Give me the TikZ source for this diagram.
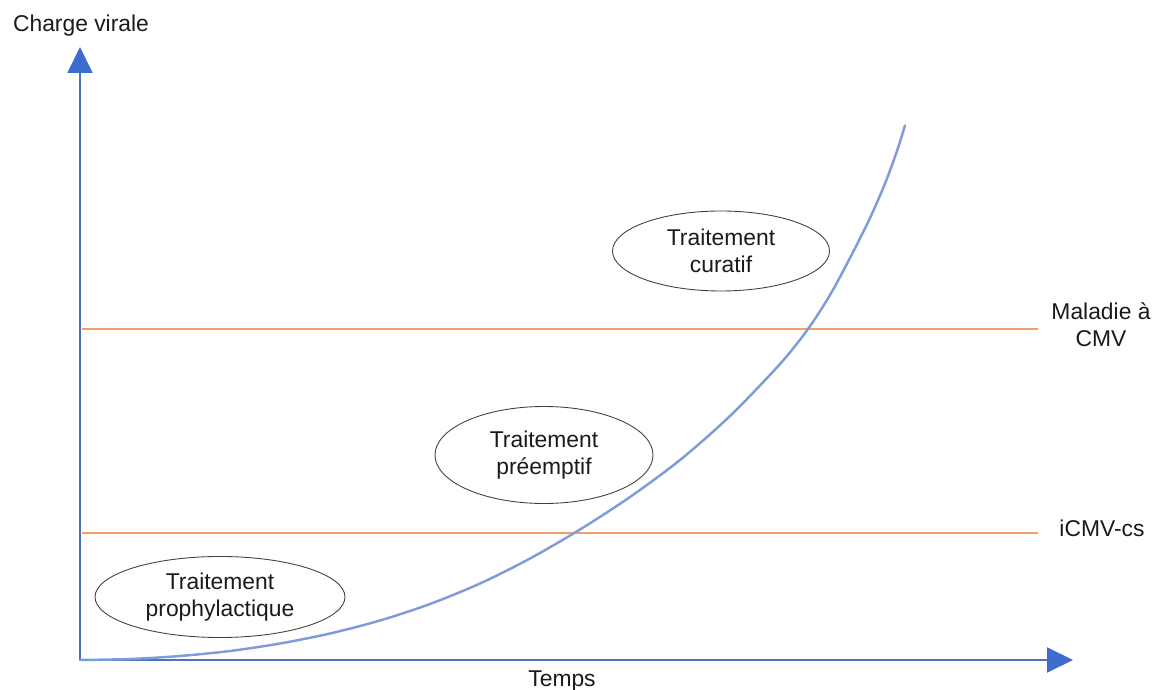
\documentclass[tikz,border=0pt]{standalone}
\usepackage{fontspec}
\setmainfont{Liberation Sans}
\usetikzlibrary{arrows.meta,shapes.geometric}
\definecolor{AxisBlue}{HTML}{4C73C0}
\definecolor{TipBlue}{HTML}{3D6CD0}
\definecolor{CurveBlue}{HTML}{809CD8}
\definecolor{Threshold}{HTML}{F29E66}
\definecolor{Ink}{HTML}{1A1A1A}
\definecolor{Rim}{HTML}{404040}

\begin{document}
\begin{tikzpicture}[x=0.2mm,y=-0.2mm,
      font=\fontsize{13}{15.5}\selectfont,text=Ink,
      line cap=round,line join=round,
      axis/.style={AxisBlue,line width=1.1pt,
        -{Triangle[length=5.2mm,width=5mm,color=TipBlue,fill=TipBlue]}},
      seuil/.style={Threshold,line width=1.5pt,line cap=butt},
      zone/.style={ellipse,draw=Rim,line width=0.5pt,align=center,
        inner sep=0pt}]
    \useasboundingbox (0,0) rectangle (1159,690);

    % axes
    \coordinate (origin) at (80,660);
    \coordinate (ytip) at (80,47);
    \coordinate (xtip) at (1073,660);
    \draw[axis] (origin) -- (ytip);
    \draw[axis] (origin) -- (xtip);
    \node[anchor=base] (charge) at (81,32) {Charge virale};
    \node[anchor=base] (temps) at (562,686) {Temps};

    % seuils
    \coordinate (cmvstart) at (82,329);
    \coordinate (cmvend) at (1038,329);
    \coordinate (icsstart) at (82,533);
    \coordinate (icsend) at (1038,533);
    \draw[seuil] (cmvstart) -- (cmvend);
    \draw[seuil] (icsstart) -- (icsend);
    \node[align=center] (maladie) at (1101,325) {Maladie à\\CMV};
    \node[anchor=base] (icmv) at (1102,537) {iCMV-cs};

    % charge virale
    \draw[CurveBlue,line width=1.4pt] plot[smooth,tension=0.5] coordinates {
      (80,660) (130,659) (180,656) (230,651) (280,643.5) (330,633.5)
      (380,620.5) (430,604) (480,583.5) (530,558.5) (580,529.5)
      (630,497) (680,460) (730,416) (780,364) (808,329) (830,295)
      (850,258) (870,218) (885,183.5) (897,151) (905,125.5)};

    % traitements
    \node[zone,minimum width=43.4mm,minimum height=16mm]
      (curatif) at (721,251) {Traitement\\curatif};
    \node[zone,minimum width=43.6mm,minimum height=19.4mm]
      (preemptif) at (544,455) {Traitement\\préemptif};
    \node[zone,minimum width=50mm,minimum height=16.2mm]
      (prophylaxie) at (220,597) {Traitement\\prophylactique};
  \end{tikzpicture}
\end{document}
